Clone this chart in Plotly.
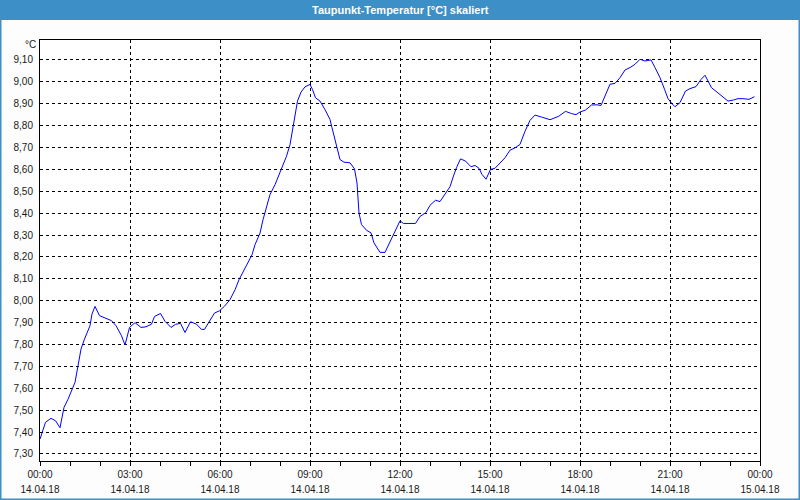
import pandas as pd
import plotly.graph_objects as go

# ---- data ----
title_text = "Taupunkt-Temperatur [°C] skaliert"
unit_label = "°C"
start_day = "2018-04-14 00:00"
end_day = "2018-04-15 00:00"

minutes = [0, 11, 22, 31, 40, 48, 56, 62, 70, 76, 82, 89, 100, 104, 110, 119,
           133, 143, 152, 163, 170, 179, 190, 202, 212, 223, 229, 241, 250, 262,
           271, 281, 290, 301, 313, 323, 329, 340, 349, 359, 369, 380, 390, 398,
           407, 416, 424, 430, 440, 446, 454, 460, 470, 480, 487, 493, 500, 505,
           510, 515, 522, 530, 540, 545, 551, 560, 570, 580, 584, 590, 595, 600,
           608, 620, 629, 634, 638, 643, 653, 662, 668, 680, 690, 700, 710, 720,
           727, 751, 760, 772, 780, 791, 800, 810, 820, 827, 833, 841, 851, 862,
           870, 878, 884, 892, 901, 910, 920, 930, 940, 950, 960, 970, 980, 990,
           1003, 1020, 1037, 1051, 1063, 1072, 1080, 1091, 1103, 1114, 1122, 1132,
           1140, 1150, 1160, 1170, 1180, 1190, 1200, 1210, 1222, 1230, 1240, 1249,
           1256, 1264, 1270, 1280, 1291, 1300, 1312, 1322, 1330, 1336, 1343, 1354,
           1367, 1376, 1387, 1396, 1406, 1418, 1429]

values = [7.368, 7.445, 7.463, 7.452, 7.420, 7.513, 7.550, 7.580, 7.627, 7.703,
          7.779, 7.825, 7.886, 7.940, 7.974, 7.932, 7.919, 7.909, 7.886, 7.840,
          7.798, 7.878, 7.900, 7.878, 7.881, 7.893, 7.928, 7.942, 7.906, 7.878,
          7.892, 7.897, 7.855, 7.904, 7.893, 7.869, 7.869, 7.912, 7.944, 7.954,
          7.975, 8.005, 8.050, 8.096, 8.134, 8.172, 8.210, 8.256, 8.309, 8.370,
          8.431, 8.485, 8.530, 8.584, 8.622, 8.660, 8.713, 8.774, 8.851, 8.912,
          8.953, 8.977, 8.988, 8.965, 8.927, 8.912, 8.873, 8.828, 8.790, 8.736,
          8.683, 8.645, 8.633, 8.630, 8.602, 8.538, 8.400, 8.348, 8.322, 8.310,
          8.264, 8.221, 8.221, 8.271, 8.320, 8.365, 8.353, 8.353, 8.385, 8.403,
          8.436, 8.459, 8.453, 8.486, 8.521, 8.570, 8.608, 8.648, 8.638, 8.612,
          8.618, 8.605, 8.577, 8.555, 8.600, 8.605, 8.630, 8.653, 8.688, 8.698,
          8.714, 8.774, 8.824, 8.848, 8.839, 8.827, 8.842, 8.865, 8.855, 8.850,
          8.862, 8.871, 8.894, 8.895, 8.892, 8.943, 8.989, 8.993, 9.019, 9.054,
          9.065, 9.080, 9.103, 9.095, 9.100, 9.065, 9.019, 8.966, 8.923, 8.900,
          8.886, 8.905, 8.958, 8.969, 8.978, 9.011, 9.030, 9.004, 8.973, 8.953,
          8.927, 8.912, 8.917, 8.923, 8.923, 8.920, 8.932]

y_ticks = [7.3, 7.4, 7.5, 7.6, 7.7, 7.8, 7.9, 8.0, 8.1, 8.2, 8.3, 8.4, 8.5,
           8.6, 8.7, 8.8, 8.9, 9.0, 9.1]
y_range = [7.268, 9.191]

assert len(minutes) == len(values)

t0 = pd.Timestamp(start_day)
times = [t0 + pd.Timedelta(minutes=m) for m in minutes]
x_ticks = list(pd.date_range(start_day, end_day, freq="3h"))
time_text = [t.strftime("%H:%M") for t in x_ticks]
date_text = [t.strftime("%d.%m.%y") for t in x_ticks]

# ---- layout geometry (pixels) ----
W, H = 800, 500
ML, MR, MT, MB = 40, 40, 40, 39
PW, PH = W - ML - MR, H - MT - MB


def px_x(x):
    return (x - ML) / PW


def px_y(y):
    return (H - MB - y) / PH


blue = "#3c8fc7"
font_family = "Liberation Sans, Arial, sans-serif"
txt = "#1a1a1a"

fig = go.Figure()
fig.add_trace(go.Scatter(x=times, y=values, mode="lines",
                         line=dict(color="#0000ff", width=1),
                         hoverinfo="x+y", showlegend=False))
# invisible helper trace so the date-label axis is drawn
fig.add_trace(go.Scatter(x=[x_ticks[0], x_ticks[-1]], y=[None, None],
                         xaxis="x2", mode="lines", hoverinfo="skip",
                         showlegend=False))

fig.update_layout(
    width=W, height=H,
    margin=dict(l=ML, r=MR, t=MT, b=MB, pad=0, autoexpand=False),
    paper_bgcolor="#fcfdfc",
    plot_bgcolor="#ffffff",
    separators=",.",
    font=dict(family=font_family, size=10, color=txt),
    showlegend=False,
    xaxis=dict(
        type="date", automargin=False,
        range=[x_ticks[0], x_ticks[-1]],
        tickmode="array", tickvals=x_ticks, ticktext=time_text,
        showgrid=True, gridcolor="#000000", gridwidth=1, griddash="3px,3px",
        showline=True, linecolor="#000000", linewidth=1, mirror=True,
        ticks="outside", ticklen=4, tickcolor="#000000", tickwidth=1,
        ticklabelstandoff=0,
        minor=dict(ticks="outside", ticklen=4, tickcolor="#000000",
                   dtick=3600000, tick0=start_day, showgrid=False),
        tickfont=dict(size=10, color=txt),
        zeroline=False, fixedrange=True,
    ),
    xaxis2=dict(
        type="date", automargin=False, overlaying="x", side="bottom",
        anchor="y",
        range=[x_ticks[0], x_ticks[-1]],
        tickmode="array", tickvals=x_ticks, ticktext=date_text,
        showgrid=False, showline=False, ticks="", zeroline=False,
        ticklabelstandoff=21,
        tickfont=dict(size=10, color=txt), fixedrange=True,
    ),
    yaxis=dict(
        range=y_range, automargin=False,
        tickmode="array", tickvals=y_ticks, tickformat=".2f",
        showgrid=True, gridcolor="#000000", gridwidth=1, griddash="3px,3px",
        showline=True, linecolor="#000000", linewidth=1, mirror=True,
        ticks="", ticklabelstandoff=4,
        tickfont=dict(size=10, color=txt),
        zeroline=False, fixedrange=True,
    ),
    shapes=[
        dict(type="rect", xref="paper", yref="paper", layer="below",
             x0=px_x(0), x1=px_x(W), y0=px_y(20), y1=px_y(0),
             fillcolor=blue, line=dict(width=0)),
        dict(type="rect", xref="paper", yref="paper", layer="above",
             x0=px_x(0.5), x1=px_x(W - 0.5), y0=px_y(H - 0.5), y1=px_y(0.5),
             fillcolor="rgba(0,0,0,0)", line=dict(color=blue, width=2)),
    ],
    annotations=[
        dict(text="<b>" + title_text + "</b>", xref="paper", yref="paper",
             x=px_x(W / 2), y=px_y(10), showarrow=False,
             xanchor="center", yanchor="middle",
             font=dict(family=font_family, size=11, color="#ffffff")),
        dict(text=unit_label, xref="paper", yref="paper",
             x=px_x(38), y=px_y(44), showarrow=False,
             xanchor="right", yanchor="middle",
             font=dict(family=font_family, size=10, color=txt)),
    ],
)

fig.write_html("out.html")
